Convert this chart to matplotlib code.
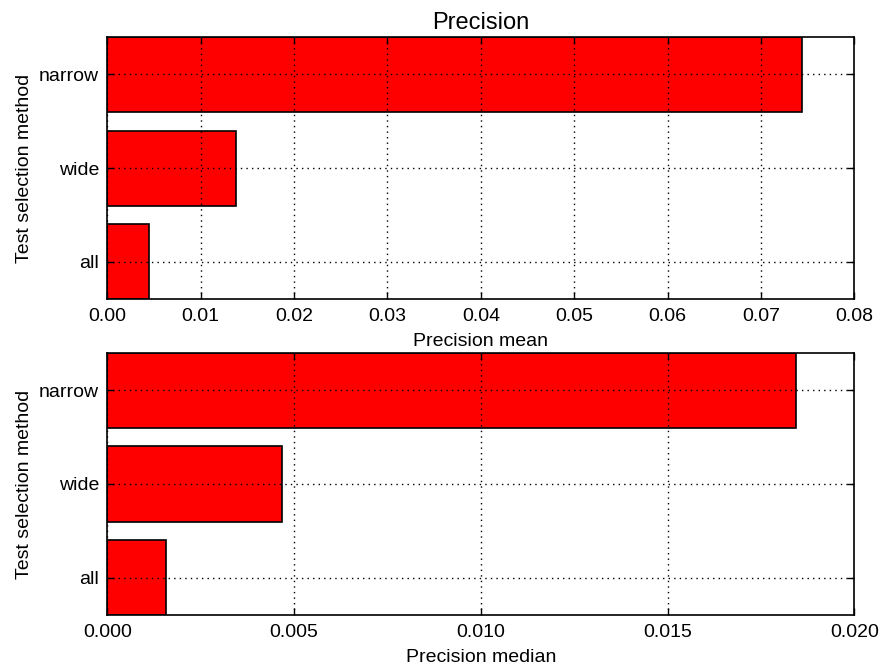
import matplotlib
matplotlib.use("Agg")
import matplotlib.pyplot as plt
import numpy as np

plt.rcParams['font.family'] = ['Liberation Sans', 'DejaVu Sans']

categories = ["all", "wide", "narrow"]
precision_mean = [0.00449, 0.01378, 0.07440]
precision_median = [0.00157, 0.004686, 0.01844]
mean_ticks = [0.00, 0.01, 0.02, 0.03, 0.04, 0.05, 0.06, 0.07, 0.08]
median_ticks = [0.000, 0.005, 0.010, 0.015, 0.020]

fig = plt.figure(figsize=(8.82, 6.68), dpi=100)
ax1 = fig.add_axes([0.1217, 0.5519, 0.847, 0.3927])
ax2 = fig.add_axes([0.1217, 0.0789, 0.847, 0.3931])

def style(ax, values, ticks, fmt, xlabel):
    y = np.arange(len(categories))
    ax.barh(y, values, height=0.8, align='center', color='#ff0000',
            edgecolor='black', linewidth=1.2, zorder=2)
    ax.set_yticks(y)
    ax.set_yticklabels(categories, fontsize=14)
    ax.set_ylim(-0.4, 2.4)
    ax.set_xlim(ticks[0], ticks[-1])
    ax.set_xticks(ticks)
    ax.set_xticklabels([fmt.format(t) for t in ticks], fontsize=14)
    ax.set_xlabel(xlabel, fontsize=14, labelpad=6)
    ax.set_ylabel("Test selection method", fontsize=14, labelpad=4)
    ax.grid(True, linestyle=(0, (1, 3)), color='black', linewidth=1.0, zorder=3)
    ax.set_axisbelow(False)
    ax.tick_params(direction='in', top=True, right=True, length=5, width=1, pad=6)
    for s in ax.spines.values():
        s.set_linewidth(1.2)

style(ax1, precision_mean, mean_ticks, "{:.2f}", "Precision mean")
style(ax2, precision_median, median_ticks, "{:.3f}", "Precision median")
ax1.set_title("Precision", fontsize=17, pad=6)

fig.savefig("out.png", dpi=100)
